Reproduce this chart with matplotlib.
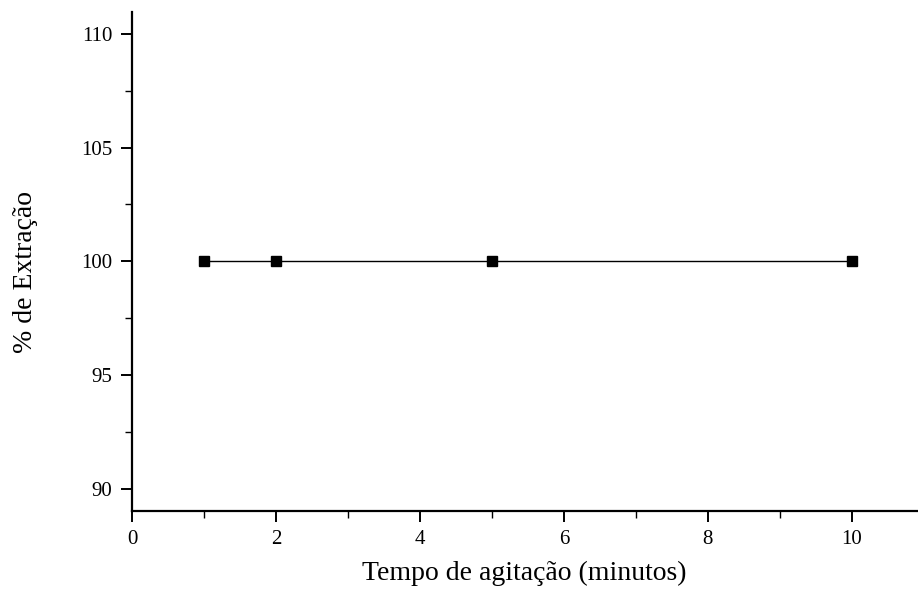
import matplotlib
matplotlib.use("Agg")
import matplotlib.pyplot as plt
from matplotlib.ticker import MultipleLocator

plt.rcParams['font.family'] = ['Liberation Serif', 'DejaVu Serif']

tempo = [1, 2, 5, 10]
extracao = [100, 100, 100, 100]
x_ticks = [0, 2, 4, 6, 8, 10]
y_ticks = [90, 95, 100, 105, 110]

fig = plt.figure(figsize=(9.18, 5.96), dpi=100)
ax = fig.add_axes([132/918, 85/596, 1 - 132/918, 499/596])

ax.plot(tempo, extracao, color='black', lw=1.0, marker='s', markersize=7,
        markerfacecolor='black', markeredgecolor='black')

ax.set_xlim(0, 10.92)
ax.set_ylim(89.04, 110.95)
ax.set_xticks(x_ticks)
ax.set_yticks(y_ticks)
ax.xaxis.set_minor_locator(MultipleLocator(1))
ax.yaxis.set_minor_locator(MultipleLocator(2.5))
ax.tick_params(which='major', direction='out', length=8, width=1.4, labelsize=15, pad=6)
ax.tick_params(which='minor', direction='out', length=5, width=1.0)
for s in ['top', 'right']:
    ax.spines[s].set_visible(False)
for s in ['left', 'bottom']:
    ax.spines[s].set_linewidth(1.6)

fig.text(524/918, 1 - 573/596, 'Tempo de agitação (minutos)', fontsize=20,
         ha='center', va='center')
fig.text(26/918, 1 - 272/596, '% de Extração', fontsize=20, rotation=90,
         ha='center', va='center')

fig.savefig('out.png', dpi=100)
